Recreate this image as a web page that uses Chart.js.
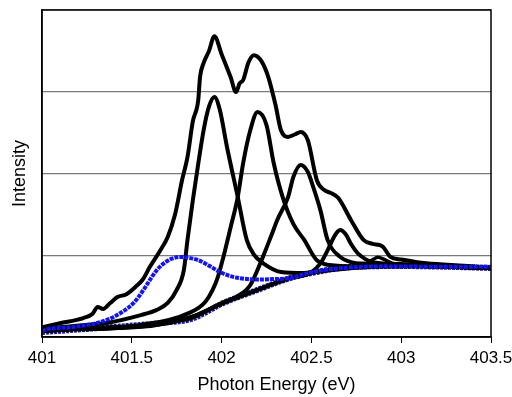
<!DOCTYPE html>
<html>
<head>
<meta charset="utf-8">
<script src="https://cdn.jsdelivr.net/npm/chart.js@4"></script>
<style>
  html, body { margin: 0; padding: 0; background: #fff; }
  #wrap { width: 512px; height: 397px; }
</style>
</head>
<body>
<div id="wrap"><canvas id="nexafs"></canvas></div>
<script>
const xTicks = [401, 401.5, 402, 402.5, 403, 403.5];
const xTitle = 'Photon Energy (eV)';

// measured sum (noisy envelope)
const envelope = [[401.00,3.0],[401.10,4.2],[401.23,5.8],[401.28,7.0],[401.31,9.2],[401.34,8.6],[401.38,10.4],[401.42,12.2],[401.47,13.1],[401.52,15.3],[401.56,17.5],[401.60,21.4],[401.66,26.6],[401.70,30.6],[401.74,37.3],[401.78,48.0],[401.81,55.0],[401.84,66.0],[401.87,72.5],[401.88,79.5],[401.90,83.8],[401.93,87.5],[401.96,92.0],[402.00,86.5],[402.05,79.5],[402.08,74.9],[402.10,77.5],[402.12,78.6],[402.15,84.0],[402.18,86.2],[402.22,84.5],[402.26,79.5],[402.30,71.0],[402.33,63.3],[402.37,61.2],[402.41,62.0],[402.44,62.7],[402.48,60.2],[402.53,48.0],[402.57,45.0],[402.61,44.0],[402.65,42.5],[402.72,35.8],[402.79,29.7],[402.84,28.5],[402.88,28.1],[402.90,27.5],[402.94,24.5],[403.00,23.7],[403.09,22.9],[403.20,22.3],[403.35,21.8],[403.50,21.1]];

// fitted peaks
const peakA = [[401.00,2.5],[401.18,3.4],[401.36,4.3],[401.55,6.7],[401.64,8.3],[401.70,10.4],[401.75,14.4],[401.79,20.5],[401.81,29.7],[401.84,41.9],[401.87,53.0],[401.90,63.3],[401.93,70.5],[401.96,73.4],[401.99,69.5],[402.03,58.1],[402.09,42.8],[402.14,29.7],[402.18,25.2],[402.23,22.6],[402.33,19.9],[402.46,19.6],[402.61,20.5],[402.83,21.4],[403.11,21.7],[403.50,21.1]];
const peakB = [[401.00,2.1],[401.30,2.8],[401.55,3.7],[401.83,7.6],[401.91,10.8],[401.95,14.4],[401.98,18.5],[402.01,24.5],[402.05,33.5],[402.09,42.8],[402.12,53.2],[402.16,63.3],[402.20,68.8],[402.25,64.8],[402.29,53.2],[402.34,42.8],[402.40,34.5],[402.46,29.7],[402.53,23.5],[402.63,21.9],[402.80,21.6],[403.10,21.6],[403.50,21.1]];
const peakC = [[401.00,2.1],[401.55,3.3],[401.83,6.1],[402.01,10.6],[402.09,12.5],[402.16,15.9],[402.23,24.5],[402.28,31.5],[402.31,35.8],[402.37,42.8],[402.40,49.0],[402.44,52.6],[402.48,50.5],[402.51,45.9],[402.55,38.8],[402.59,29.7],[402.66,24.5],[402.72,22.9],[402.81,22.4],[403.00,22.0],[403.50,21.1]];
const peakD = [[401.00,2.3],[401.55,3.1],[401.83,6.1],[402.01,10.4],[402.20,14.4],[402.38,18.0],[402.50,19.8],[402.55,22.5],[402.59,26.5],[402.63,31.0],[402.66,32.7],[402.69,31.5],[402.72,28.5],[402.76,25.5],[402.85,22.8],[403.00,22.3],[403.20,21.7],[403.50,21.1]];
const peakE = [[401.00,2.3],[401.55,3.1],[401.83,6.1],[402.01,10.4],[402.20,14.4],[402.38,18.0],[402.53,19.9],[402.72,21.4],[402.80,22.3],[402.84,23.6],[402.87,24.4],[402.91,23.6],[402.96,22.4],[403.05,21.8],[403.50,21.1]];

// step background and blue component
const stepBg = [[401.00,1.5],[401.20,2.3],[401.55,3.7],[401.70,4.5],[401.83,5.5],[402.01,10.4],[402.20,14.4],[402.38,18.0],[402.53,19.9],[402.72,21.4],[403.00,21.7],[403.25,21.5],[403.50,21.1]];
const bluePeak = [[401.00,1.8],[401.03,2.4],[401.18,3.1],[401.36,5.2],[401.45,7.8],[401.51,10.4],[401.56,14.0],[401.60,17.4],[401.64,20.5],[401.68,22.6],[401.72,23.9],[401.77,24.5],[401.82,24.2],[401.87,23.5],[401.93,21.8],[401.99,19.9],[402.05,18.6],[402.10,18.0],[402.20,17.6],[402.29,17.7],[402.38,18.0],[402.46,19.2],[402.55,20.3],[402.70,21.2],[402.90,21.6],[403.20,21.5],[403.50,21.5]];

const pts = a => a.map(([x, y]) => ({ x, y }));
const line = (d, color, width, dash) => ({
  data: pts(d), borderColor: color, borderWidth: width, borderDash: dash || [],
  showLine: true, pointRadius: 0, cubicInterpolationMode: 'monotone', fill: false
});

// box round the plot, and the x title (sits a bit right of the plot centre)
const boxBorder = {
  id: 'boxBorder',
  afterDatasetsDraw(chart) {
    const { ctx, chartArea: { left, top, width, height } } = chart;
    ctx.save();
    ctx.strokeStyle = '#000';
    ctx.lineWidth = 1.5;
    ctx.strokeRect(left, top, width, height);
    ctx.fillStyle = '#000';
    ctx.font = '18px Arial, "Liberation Sans"';
    ctx.textAlign = 'center';
    ctx.textBaseline = 'middle';
    ctx.fillText(xTitle, left + width / 2 + 10, 385);
    ctx.restore();
  }
};

new Chart(document.getElementById('nexafs'), {
  type: 'scatter',
  plugins: [boxBorder],
  data: {
    datasets: [
      line(bluePeak, '#1414ee', 4, [4, 1]),
      line(envelope, '#000', 4),
      line(peakA, '#000', 4),
      line(peakB, '#000', 4),
      line(peakC, '#000', 4),
      line(peakD, '#000', 4),
      line(peakE, '#000', 3.5),
      line(stepBg, '#000', 2.5),
      line(stepBg, '#1a1a8a', 6, [3, 1])
    ]
  },
  options: {
    responsive: true,
    maintainAspectRatio: false,
    animation: false,
    layout: { padding: { top: 10, right: 21, bottom: 0, left: 0 } },
    plugins: { legend: { display: false }, tooltip: { enabled: false } },
    scales: {
      x: {
        type: 'linear', min: 401, max: 403.5,
        afterBuildTicks: s => { s.ticks = xTicks.map(v => ({ value: v })); },
        afterFit: s => { s.height = 60; s.paddingLeft = 0; s.paddingRight = 0; },
        ticks: { color: '#000', font: { family: 'Arial, "Liberation Sans"', size: 17 }, padding: 5, maxRotation: 0,
                 callback: v => String(v) },
        grid: { drawOnChartArea: false, drawTicks: true, tickLength: 6, color: '#000', lineWidth: 1 },
        border: { display: true, color: '#000', width: 1.5 },
        title: { display: false }
      },
      y: {
        min: 0, max: 100,
        afterFit: s => { s.width = 42; },
        ticks: { stepSize: 25, display: false },
        grid: { color: '#7a7a7a', lineWidth: 1.2, drawTicks: false },
        border: { display: true, color: '#000', width: 1.5 },
        title: { display: true, text: 'Intensity', color: '#000',
                 font: { family: 'Arial, "Liberation Sans"', size: 18 }, padding: { top: 9, bottom: 0 } }
      }
    }
  }
});
</script>
</body>
</html>
